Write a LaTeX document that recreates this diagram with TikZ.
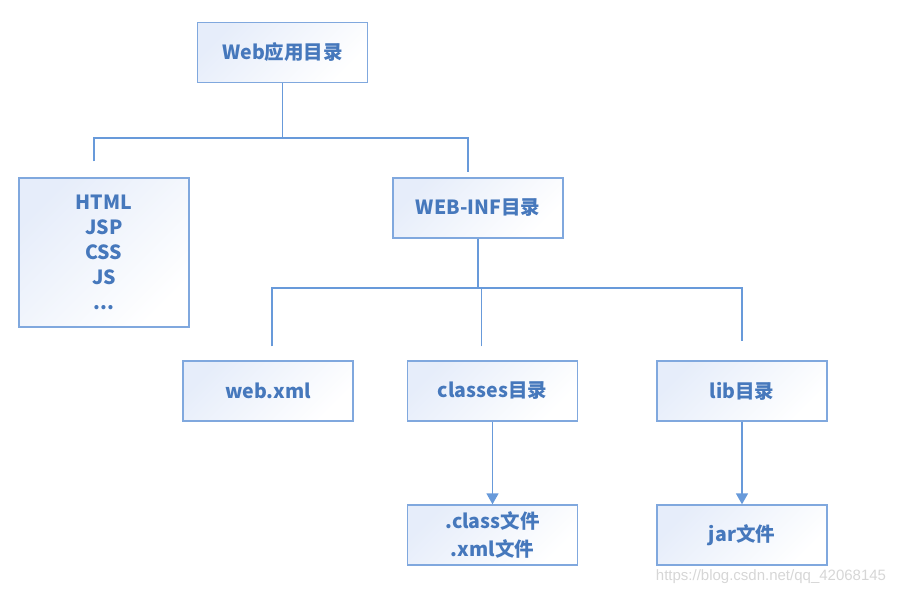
\documentclass[tikz,border=0pt]{standalone}
\usepackage{fontspec}
\newfontfamily\cjk{Noto Sans CJK SC}
\newfontfamily\marksans{Liberation Sans}
\usetikzlibrary{arrows.meta}

\definecolor{dirtext}{RGB}{70,120,188}
\definecolor{dirline}{RGB}{128,168,222}
\definecolor{linkblue}{RGB}{104,154,218}
\definecolor{boxtint}{RGB}{230,237,250}

\tikzset{
  dirbox/.style={draw=dirline, line width=1.4pt, top color=boxtint, bottom color=white,
    shading angle=45, minimum width=170pt, minimum height=60pt, text=dirtext,
    align=center, font={\cjk\bfseries\fontsize{19.5}{25}\selectfont}},
  link/.style={draw=linkblue, line width=1.6pt},
  pointer/.style={link, -{Triangle[width=12pt,length=11pt]}}
}

\begin{document}
\begin{tikzpicture}[x=1pt, y=-1pt]

\useasboundingbox (0,0) rectangle (902,594);

% boxes
\node [dirbox] (webroot) at (282.5,52.5) {Web应用目录};
\node [dirbox, minimum height=149pt] (static) at (104,252.5) {HTML\\JSP\\CSS\\JS\\...};
\node [dirbox] (webinf) at (478,208) {WEB-INF目录};

\node [dirbox] (webxml) at (268,391) {web.xml};
\node [dirbox] (classes) at (492.5,391) {classes目录};
\node [dirbox] (lib) at (742,391) {lib目录};

\node [dirbox, font={\cjk\bfseries\fontsize{19.5}{28}\selectfont}] (classfiles)
  at (492.5,535) {.class文件\\.xml文件};
\node [dirbox] (jarfiles) at (742,535) {jar文件};

% tree lines
\coordinate (rootsplit) at (282.5,138);
\draw [link] (webroot.south) -- (rootsplit);
\draw [link] ([xshift=-10pt,yshift=16pt]static.north) |- (rootsplit)
  -| ([xshift=-10pt,yshift=5pt]webinf.north);

\coordinate (infsplit) at (478,288);
\draw [link] (webinf.south) -- (infsplit);
\draw [link] ([xshift=4pt,yshift=14pt]webxml.north) |- (infsplit)
  -| ([yshift=19pt]lib.north);
\draw [link] ([xshift=-11pt,yshift=14pt]classes.north)
  -- ([xshift=-11pt]classes.north |- infsplit);

\draw [pointer] (classes) -- (classfiles);
\draw [pointer] (lib) -- (jarfiles);

\node [text=black!16, font={\marksans\fontsize{15}{15}\selectfont}] (watermark)
  at (771,577) {https://blog.csdn.net/qq\_42068145};

\end{tikzpicture}
\end{document}
